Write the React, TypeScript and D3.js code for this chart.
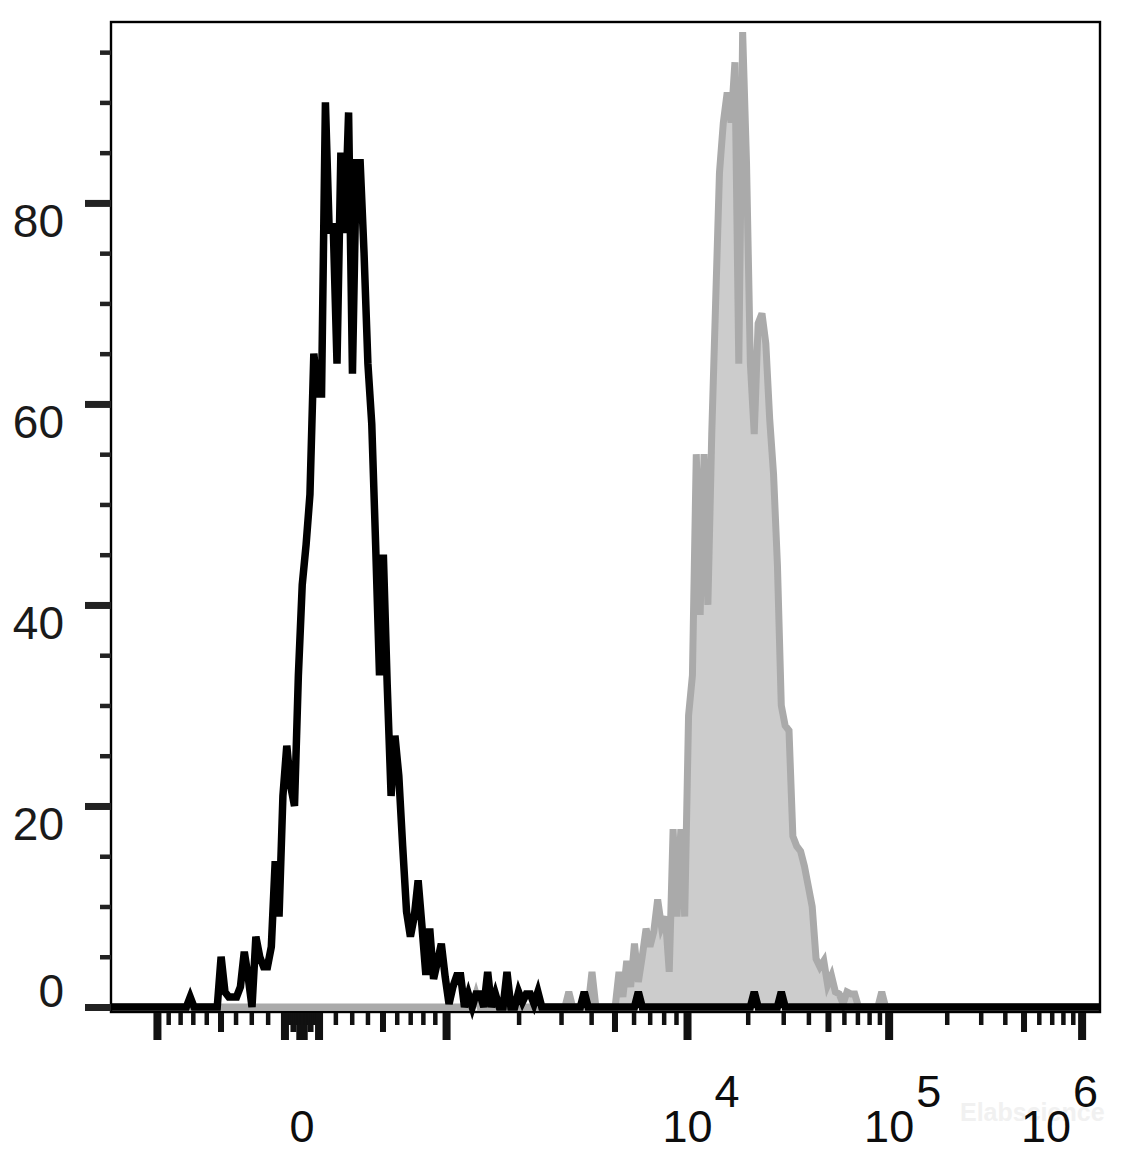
import React from "react";
import * as d3 from "d3";

// ---------- data (histogram counts per display channel, 256 channels) ----------
const BIN_COUNT = 256;

// unstained / control (black outline)
const controlStartBin = 20;
const controlCounts = [
  1, 0, 0, 0, 0, 0, 0, 0, 5, 1.5, // 20-29
  1, 1, 1, 2, 5.5, 3, 0, 7, 5, 4, // 30-39
  4, 6, 14.5, 9, 21, 26, 22, 20, 33, 42, // 40-49
  46, 51, 65, 61, 61, 90, 77, 78, 64, 85, // 50-59
  77, 89, 63, 84, 84, 75, 64, 58, 46, 33, // 60-69
  45, 32, 21, 27, 23, 16, 9.5, 7, 9, 12.6, // 70-79
  8, 3.2, 7.8, 2.8, 4.5, 6.3, 3, 0.3, 2, 3.1, // 80-89
  3.1, 0, 1.3, 0, 1.3, 1.3, 0, 3.5, 0, 1.3, // 90-99
  0, 0, 3.5, 0, 0, 1.5, 0.5, 1.3, 1.3, 0.3, // 100-109
  1.5, 0, // 110-111
];
const controlIsolated: [number, number][] = [
  [122, 1.5],
  [136, 1.5],
  [166, 1.5],
  [173, 1.5],
];

// stained sample (grey filled)
const stainedStartBin = 116;
const stainedCounts = [
  0, 0, 1.5, 0, 0, 0, 0, 0, 3.5, 0, // 116-125
  0, 0, 0, 0, 0, 3.5, 1, 4.6, 2, 6.3, // 126-135
  2.5, 5, 7.8, 6, 7.5, 10.7, 8, 9, 3.5, 17.7, // 136-145
  9, 17.7, 9, 29, 33, 55, 39, 55, 40, 57, // 146-155
  70, 83, 88, 91, 88, 94, 64, 97, 84, 64, // 156-165
  57, 68, 69, 66, 58.5, 53, 44, 30, 28, 27.5, // 166-175
  17, 16, 15.5, 14, 12, 10, 4.8, 4, 4.6, 2.2, // 176-185
  3.1, 1.5, 1.3, 0.3, 1.5, 1.3, 1.3, 0, 0, 0, // 186-195
  0, 0, 0, 1.5, 0, // 196-200
];
const stainedIsolated: [number, number][] = [[94, 1.3]];

// axes
const yMinorTicks = d3.range(0, 100, 5);
const yMajorTicks = [0, 20, 40, 60, 80];
const xLabels = [
  { value: 0, base: "0", exp: "" },
  { value: 1e4, base: "10", exp: "4" },
  { value: 1e5, base: "10", exp: "5" },
  { value: 1e6, base: "10", exp: "6" },
];
const watermark = "Elabscience";

// ---------- display transform (value -> channel), biexponential-like ----------
const ZERO_CH = 49.44;
const LIN_A = 36.72;
const LIN_C = 830;
const logPart = d3
  .scaleLinear()
  .domain([3, 4, 5, 6])
  .range([ZERO_CH + LIN_A * Math.asinh(1000 / LIN_C), 149.23, 201.42, 251.37]);
function toChannel(v: number): number {
  const a = Math.abs(v);
  if (a <= 1000 || v < 0) return ZERO_CH + Math.sign(v) * LIN_A * Math.asinh(a / LIN_C);
  return logPart(Math.log10(v));
}

function buildSeries(start: number, counts: number[], isolated: [number, number][]) {
  const arr = new Array(BIN_COUNT).fill(0);
  counts.forEach((c, i) => (arr[start + i] = c));
  isolated.forEach(([b, c]) => (arr[b] = c));
  return arr as number[];
}

function buildTicks() {
  const ticks: { v: number; kind: "major" | "mid" | "minor" }[] = [{ v: 0, kind: "major" }];
  for (let e = 1; e <= 5; e++) {
    for (let m = 1; m <= 9; m++) {
      const v = m * Math.pow(10, e);
      const kind = m === 1 ? "major" : m === 5 ? "mid" : "minor";
      ticks.push({ v, kind });
      if (e <= 2) ticks.push({ v: -v, kind });
    }
  }
  ticks.push({ v: 1e6, kind: "major" });
  ticks.push({ v: -1000, kind: "major" });
  return ticks.filter((t) => {
    const c = toChannel(t.v);
    return c >= 0 && c <= BIN_COUNT;
  });
}

const FONT = "'Liberation Sans', Arial, Helvetica, sans-serif";

export default function App() {
  const W = 1138;
  const H = 1152;
  const left = 111;
  const right = 1100;
  const top = 22;
  const zeroY = 1007;
  const frameBottom = 1012;

  const x = d3.scaleLinear().domain([0, BIN_COUNT]).range([left, right]);
  const y = d3.scaleLinear().domain([0, 98]).range([zeroY, top]);

  const control = buildSeries(controlStartBin, controlCounts, controlIsolated);
  const stained = buildSeries(stainedStartBin, stainedCounts, stainedIsolated);

  const toPts = (arr: number[]) => {
    const pts: [number, number][] = arr.map((c, i) => [i + 0.5, c]);
    return [[0, arr[0]] as [number, number], ...pts, [BIN_COUNT, arr[BIN_COUNT - 1]] as [number, number]];
  };

  const line = d3
    .line<[number, number]>()
    .x((d) => x(d[0]))
    .y((d) => y(d[1]));
  const area = d3
    .area<[number, number]>()
    .x((d) => x(d[0]))
    .y0(y(0))
    .y1((d) => y(d[1]));

  const stainedPts = toPts(stained);
  const controlPts = toPts(control);

  const xTicks = buildTicks();
  const tickSpec = {
    major: { w: 8, len: 27 },
    mid: { w: 6, len: 19 },
    minor: { w: 4.5, len: 12 },
  };

  const labelFont = 45;
  const digitW = labelFont * 0.556;

  return (
    <svg
      width={W}
      height={H}
      style={{ position: "absolute", left: 0, top: 0, background: "#fff" }}
    >
      <rect x={0} y={0} width={W} height={H} fill="#fff" />
      {/* watermark */}
      <text x={960} y={1121} fontFamily={FONT} fontSize={25} fontWeight="bold" fill="#f1f1f1">
        {watermark}
      </text>

      {/* stained histogram */}
      <path d={area(stainedPts) || ""} fill="#cccccc" stroke="none" />
      <path d={line(stainedPts) || ""} fill="none" stroke="#aaaaaa" strokeWidth={7} />
      {/* control histogram */}
      <path d={line(controlPts) || ""} fill="none" stroke="#000" strokeWidth={7.5} />

      {/* frame */}
      <rect
        x={left}
        y={top}
        width={right - left}
        height={frameBottom - top}
        fill="none"
        stroke="#000"
        strokeWidth={2.4}
      />

      {/* y ticks */}
      {yMinorTicks.map((v) => {
        const major = v % 20 === 0;
        const len = major ? 26 : 11;
        const th = major ? 7 : 4.5;
        return (
          <rect key={"yt" + v} x={left - len} y={y(v) + 0.5 - th / 2} width={len} height={th} fill="#222" />
        );
      })}
      {yMajorTicks.map((v) => (
        <text
          key={"yl" + v}
          x={64}
          y={v === 0 ? y(v) : y(v) + 34}
          textAnchor="end"
          fontFamily={FONT}
          fontSize={46}
          fill="#1a1a1a"
        >
          {v}
        </text>
      ))}

      {/* x ticks */}
      {xTicks.map((t, i) => {
        const s = tickSpec[t.kind];
        const px = x(toChannel(t.v));
        return (
          <rect key={"xt" + i} x={px - s.w / 2} y={frameBottom + 1} width={s.w} height={s.len} fill="#111" />
        );
      })}
      {xLabels.map((l) => {
        const px = x(toChannel(l.value));
        const baseW = digitW * l.base.length;
        const expW = digitW * l.exp.length;
        let start = px - baseW / 2;
        const total = baseW + expW + 2;
        if (start + total > right - 2) start = right - 2 - total;
        return (
          <text key={"xl" + l.value} x={start} y={1142} fontFamily={FONT} fontSize={labelFont} fill="#0d0d0d">
            <tspan>{l.base}</tspan>
            {l.exp && (
              <tspan dx={2} dy={-35}>
                {l.exp}
              </tspan>
            )}
          </text>
        );
      })}
    </svg>
  );
}
